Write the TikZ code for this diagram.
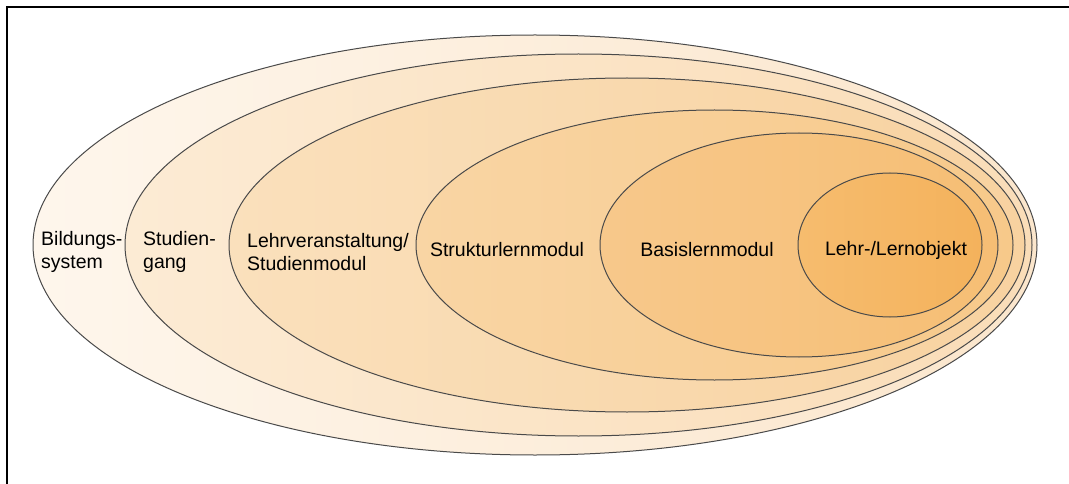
\documentclass[tikz,border=0pt]{standalone}
\usepackage{fontspec}
\setmainfont{Liberation Sans}
\tikzset{
  ring/.style={draw=ringline, line width=1pt},
  lbl/.style={font=\fontsize{19.5}{22.5}\selectfont, text=black, inner sep=0pt},
  lbll/.style={lbl, align=left, anchor=west},
}
\definecolor{ringline}{HTML}{4A4A4A}
\definecolor{aL}{HTML}{FEF6EC}\definecolor{aR}{HTML}{FBE6CC}
\definecolor{bL}{HTML}{FCEBD4}\definecolor{bR}{HTML}{FADDB8}
\definecolor{cL}{HTML}{FAE0BC}\definecolor{cR}{HTML}{F8D2A0}
\definecolor{dL}{HTML}{F9D5A4}\definecolor{dR}{HTML}{F7C98A}
\definecolor{eL}{HTML}{F7C88B}\definecolor{eR}{HTML}{F6BE74}
\definecolor{fL}{HTML}{F6BC6E}\definecolor{fR}{HTML}{F4B25C}
\begin{document}
\begin{tikzpicture}[x=1pt,y=-1pt]
  \useasboundingbox (0,0) rectangle (1069,484);
  % frame (left and top edges)
  \draw[line width=2pt] (7,484) -- (7,7) -- (1069,7);
  % nested ellipses, outermost first
  \draw[ring, left color=aL, right color=aR] (535,245) ellipse [x radius=502pt, y radius=210pt];
  \draw[ring, left color=bL, right color=bR] (578.5,245) ellipse [x radius=453.5pt, y radius=191pt];
  \draw[ring, left color=cL, right color=cR] (627,245) ellipse [x radius=398pt, y radius=167pt];
  \draw[ring, left color=dL, right color=dR] (714.5,245) ellipse [x radius=298.5pt, y radius=135pt];
  \draw[ring, left color=eL, right color=eR] (799,245) ellipse [x radius=199pt, y radius=112pt];
  \draw[ring, left color=fL, right color=fR] (890,245) ellipse [x radius=92pt, y radius=72pt];
  % labels
  \node[lbll] (bild) at (41,252) {Bildungs-\\system};
  \node[lbll] (stud) at (143,252) {Studien-\\gang};
  \node[lbll] (lehr) at (247,252) {Lehrveranstaltung/\\Studienmodul};
  \node[lbl] (strk) at (507,250) {Strukturlernmodul};
  \node[lbl] (basis) at (707,250) {Basislernmodul};
  \node[lbl] (lobj) at (896,250) {Lehr-/Lernobjekt};
\end{tikzpicture}
\end{document}
